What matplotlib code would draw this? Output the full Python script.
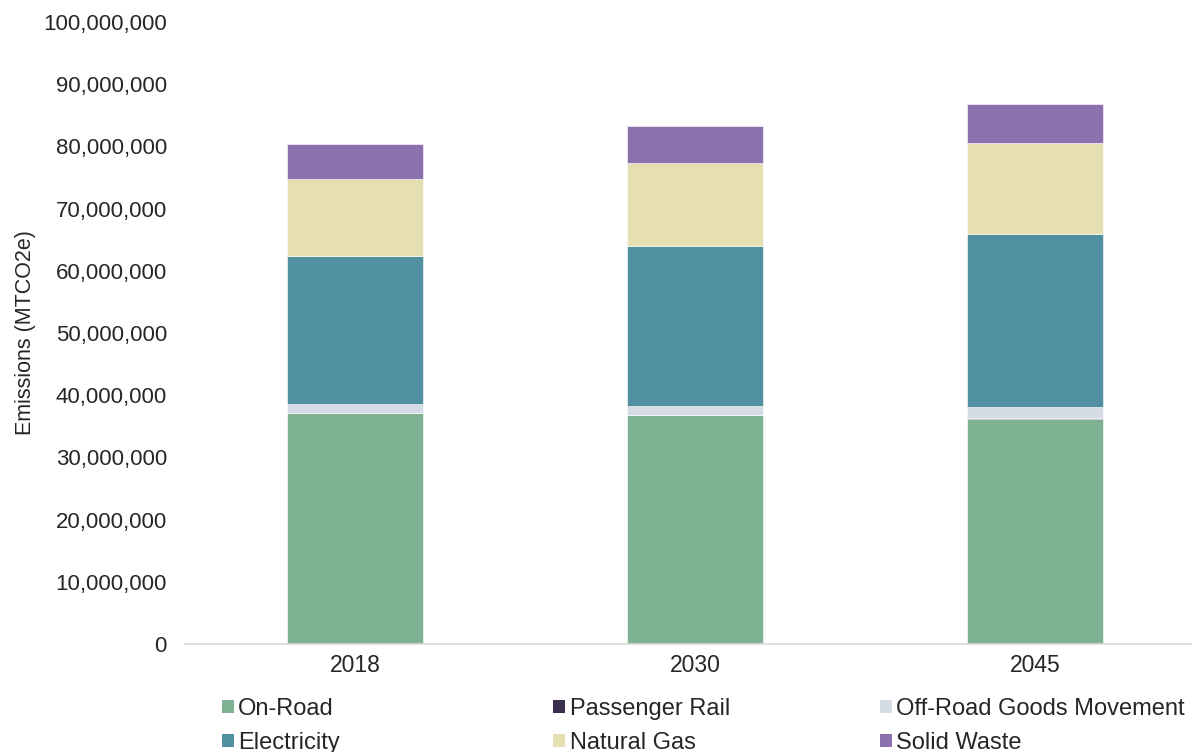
import matplotlib
matplotlib.use("Agg")
import matplotlib.pyplot as plt
import numpy as np
from matplotlib.patches import Patch
from matplotlib.ticker import FuncFormatter

plt.rcParams["font.family"] = ["Liberation Sans", "DejaVu Sans"]

years = ["2018", "2030", "2045"]

# emissions by sector, MTCO2e
on_road = [37_200_000, 36_800_000, 36_200_000]
passenger_rail = [20_000, 20_000, 200_000]
off_road_goods = [1_400_000, 1_500_000, 1_700_000]
electricity = [23_700_000, 25_600_000, 27_900_000]
natural_gas = [12_400_000, 13_400_000, 14_500_000]
solid_waste = [5_600_000, 6_000_000, 6_400_000]

sectors = [
    ("On-Road", on_road, "#7FB293"),
    ("Passenger Rail", passenger_rail, "#3B2F4F"),
    ("Off-Road Goods Movement", off_road_goods, "#D6DCE5"),
    ("Electricity", electricity, "#5090A0"),
    ("Natural Gas", natural_gas, "#E6DFB2"),
    ("Solid Waste", solid_waste, "#8C71AC"),
]

fig = plt.figure(figsize=(11.92, 7.52), dpi=100)
ax = fig.add_axes([0.1552, 0.1436, 0.856, 0.8271])

x = np.arange(len(years))
bottom = np.zeros(len(years))
for name, vals, color in sectors:
    ax.bar(x, vals, width=0.4, bottom=bottom, color=color,
           edgecolor="white", linewidth=0.4, label=name)
    bottom += np.array(vals)

ax.set_xlim(-0.5, 2.5)
ax.set_ylim(0, 100_000_000)
ax.set_yticks(np.arange(0, 100_000_001, 10_000_000))
ax.yaxis.set_major_formatter(FuncFormatter(lambda v, p: f"{int(v):,}"))
ax.set_xticks(x)
ax.set_xticklabels(years)
ax.tick_params(axis="y", length=0, labelsize=16, colors="#262626", pad=13)
ax.tick_params(axis="x", length=0, labelsize=16.5, colors="#262626", pad=7)
for s in ["top", "right", "left"]:
    ax.spines[s].set_visible(False)
ax.spines["bottom"].set_color("#D9D9D9")
ax.spines["bottom"].set_linewidth(1.2)
ax.set_ylabel("Emissions (MTCO2e)", fontsize=15.5, color="#262626", labelpad=5)

# legend: three columns, two rows, read row-wise
cols = [(0.186, [0, 3]), (0.464, [1, 4]), (0.738, [2, 5])]
for xpos, idx in cols:
    handles = [Patch(facecolor=sectors[i][2], edgecolor="none") for i in idx]
    labels = [sectors[i][0] for i in idx]
    fig.legend(handles, labels, loc="upper left", bbox_to_anchor=(xpos, 0.072),
               frameon=False, fontsize=17, handlelength=0.5, handleheight=0.5,
               handletextpad=0.2, labelspacing=0.5, borderaxespad=0,
               borderpad=0, labelcolor="#262626")

fig.savefig("out.png", dpi=100)
